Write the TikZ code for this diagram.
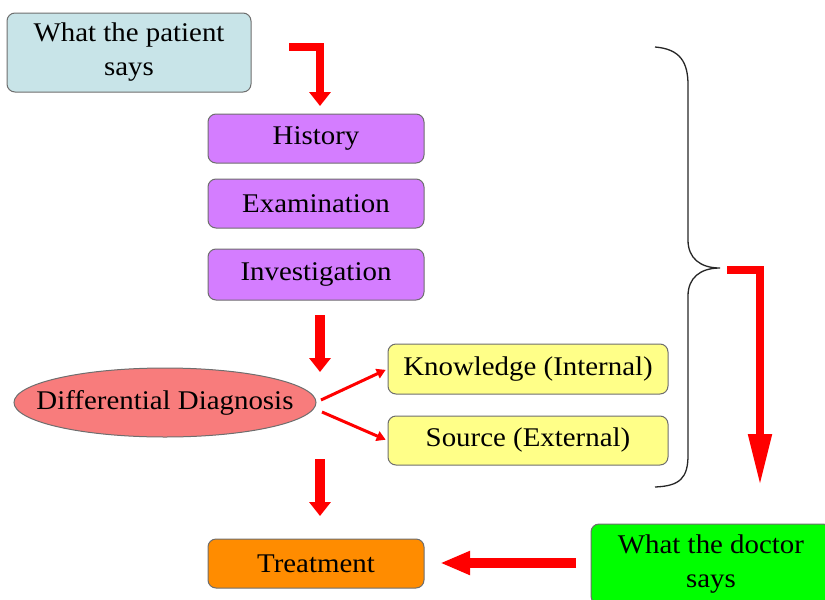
\documentclass[tikz,border=0pt]{standalone}
\usepackage{fontspec}
\setmainfont{Liberation Serif}[FakeStretch=1.07]
\usetikzlibrary{arrows.meta,shapes.geometric}
\definecolor{patientc}{RGB}{200,228,232}
\definecolor{violetc}{RGB}{212,125,255}
\definecolor{ellc}{RGB}{248,124,124}
\definecolor{yellowc}{RGB}{255,255,136}
\definecolor{orangec}{RGB}{255,140,0}
\definecolor{greenc}{RGB}{0,255,0}
\definecolor{redc}{RGB}{255,0,0}
\definecolor{borderc}{RGB}{110,110,110}
\tikzset{
  txt/.style={font=\fontsize{27}{34}\selectfont},
  box/.style={draw=borderc, line width=1pt, rounded corners=8pt, inner sep=0pt,
    align=center, txt},
  bigarrow/.style={draw=redc, line width=9pt, line join=miter,
    -{Triangle[length=14pt,width=21pt]}},
  thinarrow/.style={draw=redc, line width=3pt, shorten >=2pt,
    -{Triangle[length=9pt,width=10pt]}},
}
\begin{document}
\begin{tikzpicture}[x=1pt,y=-1pt]
\useasboundingbox (0,0) rectangle (825,600);
% nodes
\node[box, fill=patientc, minimum width=244, minimum height=79] (pat) at (129,52.5) {What the patient\\says};
\node[box, fill=violetc, minimum width=216, minimum height=49] (his) at (316,138.5) {History};
\node[box, fill=violetc, minimum width=216, minimum height=49] (exa) at (316,203.5) {Examination};
\node[box, fill=violetc, minimum width=216, minimum height=51] (inv) at (316,274.5) {Investigation};
\node[ellipse, draw=borderc, line width=1pt, fill=ellc, minimum width=302, minimum height=69, inner sep=0pt] (dd) at (165,402.5) {};
\node[txt, inner sep=0pt] (ddt) at (dd.center) {Differential Diagnosis};
\node[box, fill=yellowc, minimum width=280, minimum height=50] (kn) at (528,369) {Knowledge (Internal)};
\node[box, fill=yellowc, minimum width=280, minimum height=49] (sr) at (528,440.5) {Source (External)};
\node[box, fill=orangec, minimum width=216, minimum height=49] (tr) at (316,563.5) {Treatment};
\node[box, fill=greenc, minimum width=240, minimum height=80] (doc) at (711,564) {What the doctor\\says};
% coordinates for block arrows
\coordinate (a1s) at (289,47);
\coordinate (a1e) at (320,106);
\coordinate (a2s) at (320,315);
\coordinate (a2e) at (320,372);
\coordinate (a3s) at (320,459);
\coordinate (a3e) at (320,516);
\coordinate (a4s) at (576,563);
\coordinate (a4e) at (440,563);
\coordinate (a5s) at (727,270);
\coordinate (a5e) at (760,486);
\coordinate (d1) at (321,400);
\coordinate (d2) at (322,412);
% block arrows
\draw[bigarrow, line width=8pt] (a1s) -| (a1e);
\draw[bigarrow, line width=10pt] (a2s) -- (a2e);
\draw[bigarrow, line width=10pt] (a3s) -- (a3e);
\draw[bigarrow, line width=10pt, -{Triangle[length=30pt,width=22pt]}] (a4s) -- (a4e);
\draw[bigarrow, line width=8pt, -{Triangle[length=52pt,width=22pt]}] (a5s) -| (a5e);
% thin arrows
\draw[thinarrow] (d1) -- (kn.west);
\draw[thinarrow] (d2) -- (sr.west);
% brace
\draw[line width=1.3pt, black!85] (655,47) .. controls (680,49) and (688,62) .. (688,85)
  -- (688,240) .. controls (688,258) and (700,268) .. (720,268)
  .. controls (700,268) and (688,278) .. (688,296)
  -- (688,455) .. controls (688,478) and (680,486) .. (655,487);
\end{tikzpicture}
\end{document}
